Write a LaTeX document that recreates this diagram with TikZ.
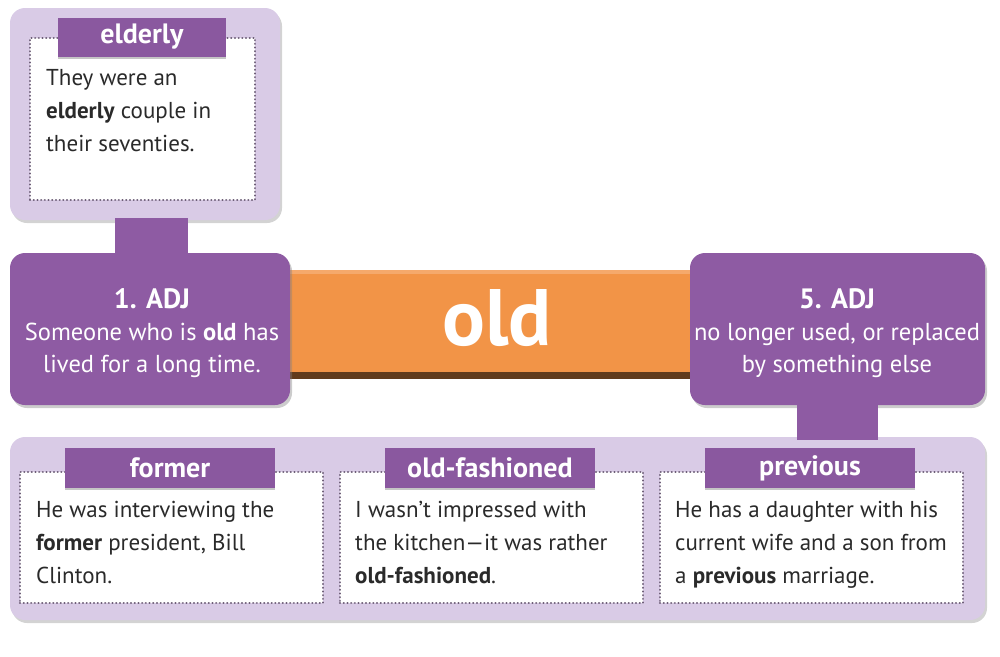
\documentclass[tikz,border=0pt]{standalone}
\usepackage{fontspec}
\setmainfont{PT Sans}
\usetikzlibrary{shadows}
\definecolor{purp}{HTML}{8E5BA3}
\definecolor{tabpurp}{HTML}{8A589F}
\definecolor{lav}{HTML}{D9CBE6}
\definecolor{orng}{HTML}{F29447}
\definecolor{dotc}{HTML}{6E5F78}
\definecolor{txt}{HTML}{2A2A2A}
\tikzset{
  panel/.style={fill=lav, rounded corners=15pt, drop shadow={opacity=0.35, shadow xshift=2pt, shadow yshift=-3pt}},
  defbox/.style={fill=purp, rounded corners=15pt, drop shadow={opacity=0.4, shadow xshift=2pt, shadow yshift=-3pt}, inner sep=0pt},
  deftext/.style={text=white, align=center, font=\fontsize{24.5}{32}\selectfont, inner sep=0pt},
  dotbox/.style={fill=white, draw=dotc, line width=2.2pt, dash pattern=on 0.1pt off 3.6pt, line cap=round},
  tabbox/.style={fill=tabpurp, draw=none, text=white, font=\bfseries\fontsize{28}{30}\selectfont, inner sep=0pt, drop shadow={opacity=0.45, shadow xshift=0pt, shadow yshift=-2pt}},
  body/.style={anchor=north west, align=left, text=txt, font=\fontsize{23}{33}\selectfont, inner sep=0pt},
  stem/.style={fill=purp},
}
\begin{document}
\begin{tikzpicture}[x=1pt,y=-1pt]
\useasboundingbox (0,0) rectangle (1000,656);
% orange bar
\node[fill=black!60!orng, minimum width=400pt, minimum height=108pt, inner sep=0pt] (barsh) at (490,325) {};
\node[fill=orng, minimum width=400pt, minimum height=102pt, inner sep=0pt] (bar) at (490,321) {};
\fill[orng!80!white] (bar.north west) rectangle ([yshift=-4pt]bar.north east);
% elderly panel
\node[panel, minimum width=270pt, minimum height=212pt] (eld) at (145,114) {};
\node[dotbox, minimum width=225pt, minimum height=162pt] (eldin) at (142.5,119) {};
\node[tabbox, minimum width=168pt, minimum height=39pt] (eldtab) at (142,37) {elderly};
\node[body] (eldtxt) at (46,69) {They were an\\\textbf{elderly} couple in\\their seventies.};
% stems
\coordinate (s1a) at (151.5,218);
\coordinate (s1b) at (151.5,262);
\fill[stem] ([xshift=-36.5pt]s1a) rectangle ([xshift=36.5pt]s1b);
% definition boxes
\node[defbox, minimum width=280pt, minimum height=152pt] (adj1) at (150,329) {};
\node[deftext] (adj1t) at (152,333)
  {{\bfseries\fontsize{28}{32}\selectfont 1. ADJ}\\Someone who is \textbf{old} has\\lived for a long time.};
\node[defbox, minimum width=295pt, minimum height=152pt] (adj5) at (837.5,329) {};
\node[deftext] (adj5t) at (837,333)
  {{\bfseries\fontsize{28}{32}\selectfont 5. ADJ}\\no longer used, or replaced\\by something else};
% old text
\node[text=white, font=\bfseries\fontsize{80}{80}\selectfont, inner sep=0pt] (oldw) at (497,318) {old};
% bottom panel
\node[panel, minimum width=975pt, minimum height=183pt] (bot) at (497.5,528.5) {};
\coordinate (s5a) at (837.5,400);
\coordinate (s5b) at (837.5,440);
\fill[stem] ([xshift=-40.5pt]s5a) rectangle ([xshift=40.5pt]s5b);
% three examples
\node[dotbox, minimum width=303pt, minimum height=131pt] (b1) at (171.5,537.5) {};
\node[dotbox, minimum width=303pt, minimum height=131pt] (b2) at (491.5,537.5) {};
\node[dotbox, minimum width=303pt, minimum height=131pt] (b3) at (811.5,537.5) {};
\node[tabbox, minimum width=210pt, minimum height=40pt] (t1) at (170,468) {former};
\node[tabbox, minimum width=210pt, minimum height=40pt] (t2) at (490,468) {old-fashioned};
\node[tabbox, minimum width=210pt, minimum height=40pt] (t3) at (810,468) {previous};
\node[body] (x1) at (36,501) {He was interviewing the\\\textbf{former} president, Bill\\Clinton.};
\node[body] (x2) at (355,501) {I wasn’t impressed with\\the kitchen—it was rather\\\textbf{old-fashioned}.};
\node[body] (x3) at (675,501) {He has a daughter with his\\current wife and a son from\\a \textbf{previous} marriage.};
\end{tikzpicture}
\end{document}
